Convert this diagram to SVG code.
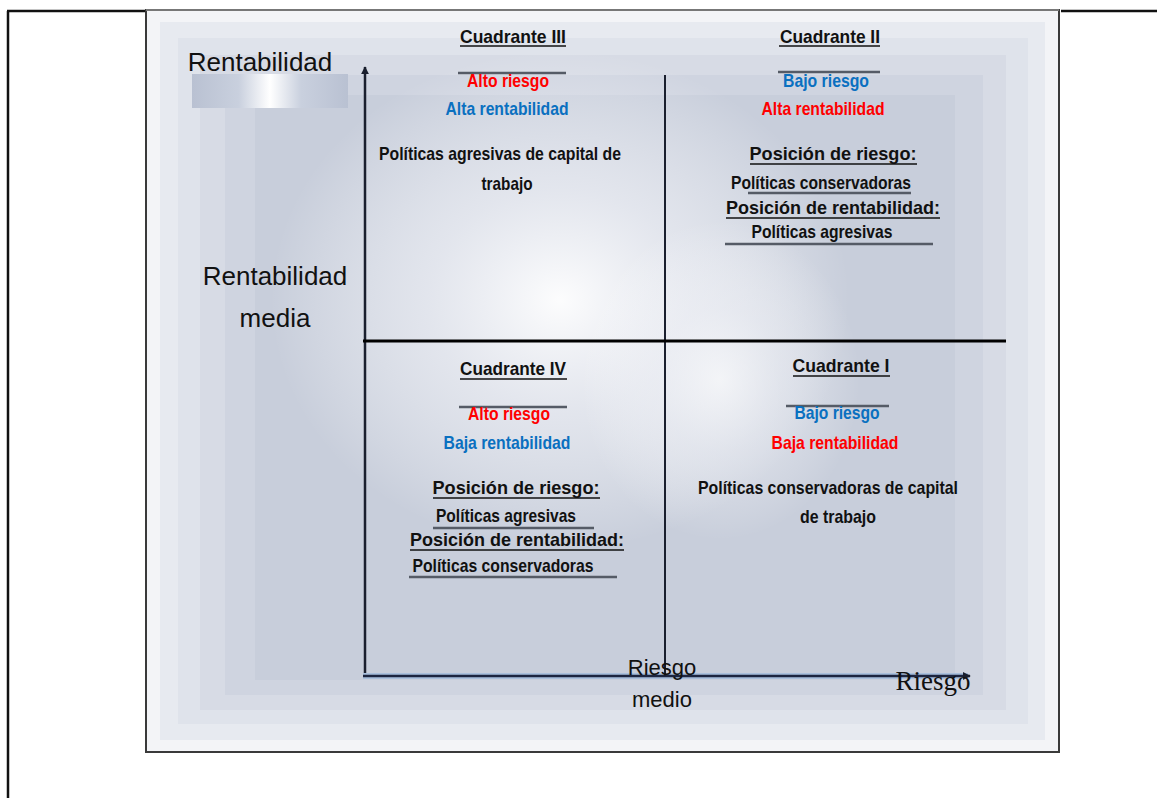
<svg xmlns="http://www.w3.org/2000/svg" width="1157" height="798" viewBox="0 0 1157 798">
<defs>
<style>
.q{font-family:"Liberation Sans Narrow","Liberation Sans",Arial,sans-serif;font-weight:bold;font-size:18.5px;text-anchor:middle}
.k{fill:#111}
.r{fill:#ff0000}
.b{fill:#0a70c0}
.ax{font-family:"Liberation Sans",Arial,sans-serif;fill:#111;text-anchor:middle}
.ul{stroke:#111;stroke-width:1.6}
.gl{stroke:#555b66;stroke-width:2.5}
.frame{stroke:#111;stroke-width:2.5;fill:none}
</style>
<radialGradient id="glow" cx="0.5" cy="0.5" r="0.5">
<stop offset="0" stop-color="#ffffff" stop-opacity="0.95"/>
<stop offset="0.45" stop-color="#f4f5f9" stop-opacity="0.6"/>
<stop offset="1" stop-color="#ffffff" stop-opacity="0"/>
</radialGradient>
<linearGradient id="deco" x1="0" y1="0" x2="1" y2="0">
<stop offset="0" stop-color="#b9c1d2"/><stop offset="0.3" stop-color="#c9d0de"/><stop offset="0.5" stop-color="#ffffff"/><stop offset="0.7" stop-color="#c9d0de"/><stop offset="1" stop-color="#b9c1d2"/>
</linearGradient>
<marker id="arr" viewBox="0 0 10 10" refX="9" refY="5" markerWidth="8" markerHeight="8" orient="auto" markerUnits="userSpaceOnUse">
<path d="M0,0 L10,5 L0,10 z" fill="#1a1f2e"/>
</marker>
</defs>

<rect x="0" y="0" width="1157" height="798" fill="#ffffff"/>

<g id="table">
<line x1="8" y1="11" x2="8" y2="798" class="frame"/>
<line x1="7" y1="11" x2="146" y2="11" class="frame"/>
<line x1="1061" y1="11" x2="1157" y2="11" class="frame"/>
</g>

<g id="background">
<rect x="146" y="10" width="913" height="742" fill="#f3f4f7"/>
<rect x="160" y="22" width="885" height="718" fill="#e7eaf0"/>
<rect x="178" y="38" width="850" height="686" fill="#dfe3eb"/>
<rect x="200" y="55" width="806" height="655" fill="#d7dbe5"/>
<rect x="225" y="75" width="758" height="620" fill="#cfd4e0"/>
<rect x="255" y="95" width="700" height="585" fill="#c8cedb"/>
<ellipse cx="560" cy="300" rx="290" ry="250" fill="url(#glow)"/>
<ellipse cx="720" cy="380" rx="140" ry="160" fill="url(#glow)" opacity="0.7"/>
<rect x="146" y="10" width="913" height="742" fill="none" stroke="#3a3a3a" stroke-width="2"/>
<line x1="146" y1="10" x2="1059" y2="10" stroke="#777" stroke-width="2"/>
<rect id="deco-bar" x="192" y="74" width="156" height="34" fill="url(#deco)"/>
</g>

<g id="connectors">
<line x1="365" y1="678" x2="365" y2="67" stroke="#1a1f2e" stroke-width="2.5" marker-end="url(#arr)"/>
<line x1="363" y1="676" x2="968" y2="676" stroke="#a9bfdc" stroke-width="6"/>
<line x1="363" y1="676" x2="970" y2="676" stroke="#1c2540" stroke-width="2.5" marker-end="url(#arr)"/>
<line x1="665" y1="75" x2="665" y2="676" stroke="#1a1f2e" stroke-width="2"/>
<line x1="363" y1="341" x2="1006" y2="341" stroke="#000" stroke-width="3"/>
</g>

<g id="axis-labels">
<text class="ax" x="260" y="71" font-size="26">Rentabilidad</text>
<text class="ax" x="275" y="285" font-size="26">Rentabilidad</text>
<text class="ax" x="275" y="327" font-size="26">media</text>
<text class="ax" x="662" y="675" font-size="22">Riesgo</text>
<text class="ax" x="662" y="707" font-size="22">medio</text>
<text x="933" y="690" font-family="'Liberation Serif','Times New Roman',serif" font-size="27" fill="#111" text-anchor="middle">Riesgo</text>
</g>

<g id="cuadrante-III">
<text class="q k" x="513" y="43" textLength="106" lengthAdjust="spacingAndGlyphs">Cuadrante  III</text>
<line class="ul" x1="460" y1="46" x2="566" y2="46"/>
<line class="gl" x1="458" y1="73" x2="566" y2="73"/>
<text class="q r" x="508" y="87" textLength="82" lengthAdjust="spacingAndGlyphs">Alto riesgo</text>
<text class="q b" x="507" y="115" textLength="123" lengthAdjust="spacingAndGlyphs">Alta rentabilidad</text>
<text class="q k" x="500" y="160" textLength="242" lengthAdjust="spacingAndGlyphs">Políticas agresivas de capital de</text>
<text class="q k" x="507" y="190" textLength="51" lengthAdjust="spacingAndGlyphs">trabajo</text>
</g>

<g id="cuadrante-II">
<text class="q k" x="830" y="43" textLength="100" lengthAdjust="spacingAndGlyphs">Cuadrante  II</text>
<line class="ul" x1="779" y1="46" x2="880" y2="46"/>
<line class="gl" x1="778" y1="72" x2="880" y2="72"/>
<text class="q b" x="826" y="87" textLength="86" lengthAdjust="spacingAndGlyphs">Bajo riesgo</text>
<text class="q r" x="823" y="115" textLength="123" lengthAdjust="spacingAndGlyphs">Alta rentabilidad</text>
<text class="q k" x="833" y="160" textLength="167" lengthAdjust="spacingAndGlyphs">Posición  de  riesgo:</text>
<line class="ul" x1="750" y1="164" x2="917" y2="164"/>
<text class="q k" x="821" y="189" textLength="180" lengthAdjust="spacingAndGlyphs">Políticas conservadoras</text>
<line class="gl" x1="748" y1="193" x2="911" y2="193"/>
<text class="q k" x="833" y="214" textLength="214" lengthAdjust="spacingAndGlyphs">Posición  de  rentabilidad:</text>
<line class="ul" x1="726" y1="218" x2="940" y2="218"/>
<text class="q k" x="822" y="238" textLength="141" lengthAdjust="spacingAndGlyphs">Políticas agresivas</text>
<line class="gl" x1="725" y1="244" x2="933" y2="244"/>
</g>

<g id="cuadrante-IV">
<text class="q k" x="513" y="375" textLength="106" lengthAdjust="spacingAndGlyphs">Cuadrante  IV</text>
<line class="ul" x1="460" y1="379" x2="567" y2="379"/>
<line class="gl" x1="459" y1="407" x2="567" y2="407"/>
<text class="q r" x="509" y="420" textLength="82" lengthAdjust="spacingAndGlyphs">Alto riesgo</text>
<text class="q b" x="507" y="449" textLength="127" lengthAdjust="spacingAndGlyphs">Baja rentabilidad</text>
<text class="q k" x="516" y="494" textLength="167" lengthAdjust="spacingAndGlyphs">Posición  de  riesgo:</text>
<line class="ul" x1="433" y1="498" x2="600" y2="498"/>
<text class="q k" x="506" y="522" textLength="140" lengthAdjust="spacingAndGlyphs">Políticas agresivas</text>
<line class="gl" x1="433" y1="528" x2="594" y2="528"/>
<text class="q k" x="517" y="546" textLength="214" lengthAdjust="spacingAndGlyphs">Posición  de  rentabilidad:</text>
<line class="ul" x1="410" y1="550" x2="624" y2="550"/>
<text class="q k" x="503" y="572" textLength="181" lengthAdjust="spacingAndGlyphs">Políticas conservadoras</text>
<line class="gl" x1="409" y1="577" x2="617" y2="577"/>
</g>

<g id="cuadrante-I">
<text class="q k" x="841" y="372" textLength="97" lengthAdjust="spacingAndGlyphs">Cuadrante  I</text>
<line class="ul" x1="793" y1="376" x2="890" y2="376"/>
<line class="gl" x1="786" y1="406" x2="889" y2="406"/>
<text class="q b" x="837" y="419" textLength="85" lengthAdjust="spacingAndGlyphs">Bajo riesgo</text>
<text class="q r" x="835" y="449" textLength="127" lengthAdjust="spacingAndGlyphs">Baja rentabilidad</text>
<text class="q k" x="828" y="494" textLength="260" lengthAdjust="spacingAndGlyphs">Políticas conservadoras de capital</text>
<text class="q k" x="838" y="523" textLength="76" lengthAdjust="spacingAndGlyphs">de trabajo</text>
</g>
</svg>
